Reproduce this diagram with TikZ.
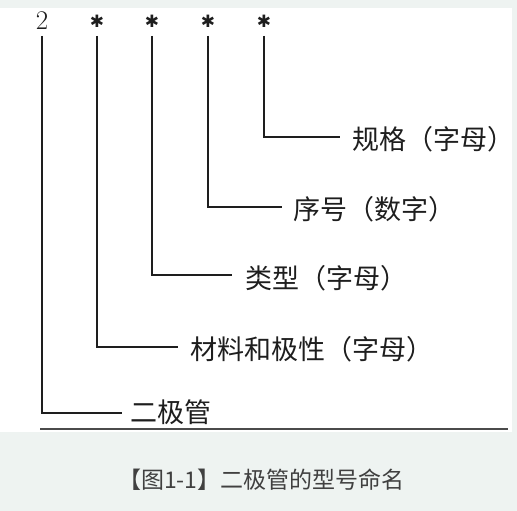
\documentclass[tikz,border=0pt]{standalone}
\usepackage{fontspec}
\newfontfamily\cjk{Noto Sans CJK SC}
\newfontfamily\symf{DejaVu Sans}
\definecolor{bgcap}{HTML}{EEF3F1}
\definecolor{ink}{HTML}{1E1E1E}
\tikzset{
  lead/.style={draw=ink, line width=2pt, line join=miter},
  lbl/.style={anchor=west, inner sep=0pt, font=\cjk\fontsize{27}{27}\selectfont, text=ink},
  sym/.style={inner sep=0pt, font=\symf\fontsize{17}{17}\selectfont, text=ink}
}
\begin{document}
\begin{tikzpicture}[x=1pt,y=-1pt]
\useasboundingbox (0,0) rectangle (517,511);
\fill[bgcap] (0,0) rectangle (517,511);
\fill[white] (0,8) rectangle (512,432);
% symbols
\node[inner sep=0pt, font=\fontsize{27}{27}\selectfont, text=ink] (s0) at (42,21) {2};
\node[sym] (s1) at (97,21) {✱};
\node[sym] (s2) at (152,21) {✱};
\node[sym] (s3) at (208,21) {✱};
\node[sym] (s4) at (264,21) {✱};
% labels
\node[lbl] (t0) at (130,412) {二极管};
\node[lbl] (t1) at (190,349) {材料和极性（字母）};
\node[lbl] (t2) at (245,278) {类型（字母）};
\node[lbl] (t3) at (293,209) {序号（数字）};
\node[lbl] (t4) at (352,139) {规格（字母）};
% corner coordinates
\coordinate (c0) at (42,413);
\coordinate (c1) at (97,347);
\coordinate (c2) at (152,275);
\coordinate (c3) at (208,207);
\coordinate (c4) at (264,137);
\coordinate (e0) at (122,413);
\coordinate (e1) at (178,347);
\coordinate (e2) at (232,275);
\coordinate (e3) at (282,207);
\coordinate (e4) at (340,137);
\draw[lead] (42,36) -- (c0) -- (e0);
\draw[lead] (97,36) -- (c1) -- (e1);
\draw[lead] (152,36) -- (c2) -- (e2);
\draw[lead] (208,36) -- (c3) -- (e3);
\draw[lead] (264,36) -- (c4) -- (e4);
% base line
\coordinate (b0) at (40,429);
\coordinate (b1) at (508,429);
\draw[draw=ink!80, line width=1.6pt] (b0) -- (b1);
% caption
\node[anchor=west, inner sep=0pt, font=\cjk\fontsize{23}{23}\selectfont, text=ink!85] (cap) at (118,480) {【图1-1】二极管的型号命名};
\end{tikzpicture}
\end{document}
